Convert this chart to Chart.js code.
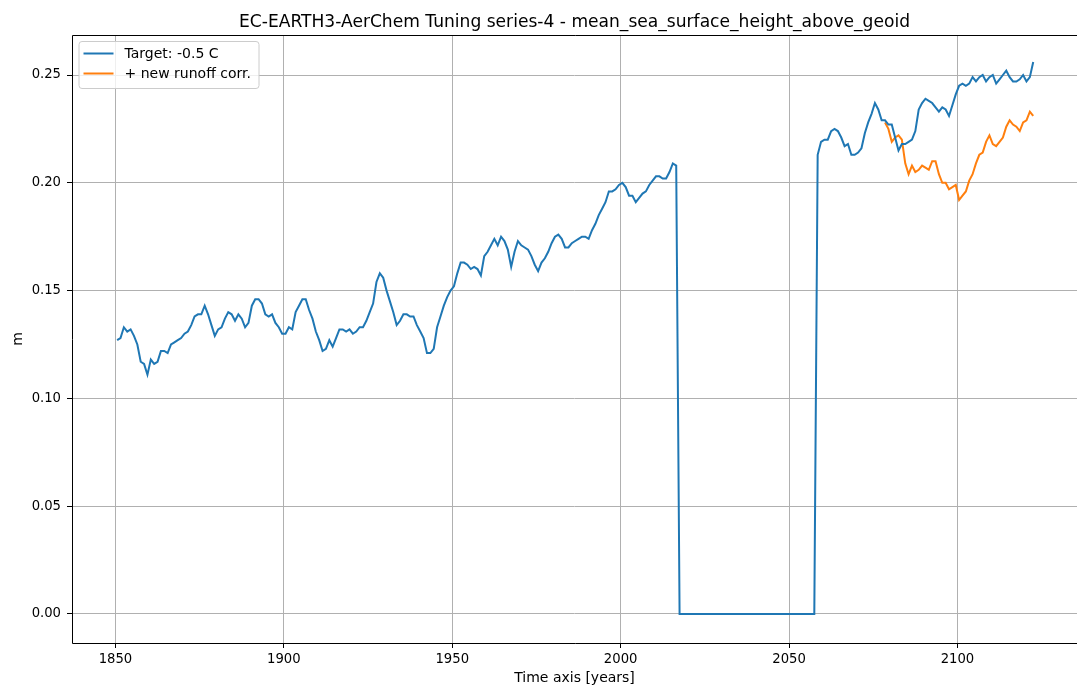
<!DOCTYPE html>
<html>
<head>
<meta charset="utf-8">
<title>EC-EARTH3-AerChem Tuning series-4</title>
<script src="https://cdn.jsdelivr.net/npm/chart.js@4.4.1/dist/chart.umd.min.js"></script>
<style>
  html, body { margin: 0; padding: 0; background: #ffffff; }
  #wrap { width: 1077px; height: 688px; position: relative; }
  canvas { display: block; }
</style>
</head>
<body>
<div id="wrap"><canvas id="chart" width="1077" height="688"></canvas></div>
<script>
// Annual means of sea surface height (m); first value is the year 1850 (plotted mid-year)
const targetStartYear = 1850;
const targetValues = [
  0.127, 0.128, 0.133, 0.131, 0.132, 0.129, 0.125, 0.117, 0.116, 0.111,
  0.118, 0.116, 0.117, 0.122, 0.122, 0.121, 0.125, 0.126, 0.127, 0.128,
  0.130, 0.131, 0.134, 0.138, 0.139, 0.139, 0.143, 0.139, 0.134, 0.129,
  0.132, 0.133, 0.137, 0.140, 0.139, 0.136, 0.139, 0.137, 0.133, 0.135,
  0.143, 0.146, 0.146, 0.144, 0.139, 0.138, 0.139, 0.135, 0.133, 0.130,
  0.130, 0.133, 0.132, 0.140, 0.143, 0.146, 0.146, 0.141, 0.137, 0.131,
  0.127, 0.122, 0.123, 0.127, 0.124, 0.128, 0.132, 0.132, 0.131, 0.132,
  0.130, 0.131, 0.133, 0.133, 0.136, 0.140, 0.144, 0.154, 0.158, 0.156,
  0.150, 0.145, 0.140, 0.134, 0.136, 0.139, 0.139, 0.138, 0.138, 0.134,
  0.131, 0.128, 0.121, 0.121, 0.123, 0.133, 0.138, 0.143, 0.147, 0.150,
  0.152, 0.158, 0.163, 0.163, 0.162, 0.160, 0.161, 0.160, 0.157, 0.166,
  0.168, 0.171, 0.174, 0.171, 0.175, 0.173, 0.169, 0.161, 0.168, 0.173,
  0.171, 0.170, 0.169, 0.166, 0.162, 0.159, 0.163, 0.165, 0.168, 0.172,
  0.175, 0.176, 0.174, 0.170, 0.170, 0.172, 0.173, 0.174, 0.175, 0.175,
  0.174, 0.178, 0.181, 0.185, 0.188, 0.191, 0.196, 0.196, 0.197, 0.199,
  0.200, 0.198, 0.194, 0.194, 0.191, 0.193, 0.195, 0.196, 0.199, 0.201,
  0.203, 0.203, 0.202, 0.202, 0.205, 0.209, 0.208,
  // 2017-2057: no output in this period
  0, 0, 0, 0, 0, 0, 0, 0, 0, 0,
  0, 0, 0, 0, 0, 0, 0, 0, 0, 0,
  0, 0, 0, 0, 0, 0, 0, 0, 0, 0,
  0, 0, 0, 0, 0, 0, 0, 0, 0, 0,
  0,
  // 2058-2122
  0.213, 0.219, 0.220, 0.220, 0.224, 0.225, 0.224, 0.221, 0.217, 0.218,
  0.213, 0.213, 0.214, 0.216, 0.223, 0.228, 0.232, 0.237, 0.234, 0.229,
  0.229, 0.227, 0.227, 0.221, 0.215, 0.218, 0.218, 0.219, 0.220, 0.224,
  0.234, 0.237, 0.239, 0.238, 0.237, 0.235, 0.233, 0.235, 0.234, 0.231,
  0.236, 0.241, 0.245, 0.246, 0.245, 0.246, 0.249, 0.247, 0.249, 0.250,
  0.247, 0.249, 0.250, 0.246, 0.248, 0.250, 0.252, 0.249, 0.247, 0.247,
  0.248, 0.250, 0.247, 0.249, 0.256
];

// Branch run with the new runoff correction, starting in 2078
const runoffStartYear = 2078;
const runoffValues = [
  0.228, 0.225, 0.219, 0.221, 0.222, 0.220, 0.209, 0.204, 0.208, 0.205,
  0.206, 0.208, 0.207, 0.206, 0.210, 0.210, 0.204, 0.200, 0.200, 0.197,
  0.198, 0.199, 0.192, 0.194, 0.196, 0.201, 0.204, 0.209, 0.213, 0.214,
  0.219, 0.222, 0.218, 0.217, 0.219, 0.221, 0.226, 0.229, 0.227, 0.226,
  0.224, 0.228, 0.229, 0.233, 0.231
];

const seriesLabels = ['Target: -0.5 C', '+ new runoff corr.'];
const xTickValues = [1850, 1900, 1950, 2000, 2050, 2100];
const yTickValues = [0.00, 0.05, 0.10, 0.15, 0.20, 0.25];

const chartTitle = 'EC-EARTH3-AerChem Tuning series-4 - mean_sea_surface_height_above_geoid';
const xAxisTitle = 'Time axis [years]';
const yAxisTitle = 'm';

const FONT = '"DejaVu Sans", "Liberation Sans", sans-serif';

function toPoints(startYear, values) {
  return values.map((v, i) => ({ x: startYear + i + 0.5, y: v }));
}

// Frame (left, top, bottom spines), title and boxed legend
const decorations = {
  id: 'decorations',
  afterDatasetsDraw(chart) {
    const { ctx, chartArea: a } = chart;
    ctx.save();
    ctx.strokeStyle = '#000000';
    ctx.lineWidth = 1;
    ctx.beginPath();
    ctx.moveTo(a.right + 2, a.top + 0.5);
    ctx.lineTo(a.left + 0.5, a.top + 0.5);
    ctx.lineTo(a.left + 0.5, a.bottom + 0.5);
    ctx.lineTo(a.right + 2, a.bottom + 0.5);
    ctx.stroke();

    // title
    ctx.fillStyle = '#000000';
    ctx.font = '17.1px ' + FONT;
    ctx.textAlign = 'center';
    ctx.textBaseline = 'alphabetic';
    ctx.fillText(chartTitle, (a.left + a.right) / 2, 26.5);

    // legend
    const lx = 79, ly = 41.5, lw = 180, lh = 47, r = 3;
    ctx.beginPath();
    ctx.moveTo(lx + r, ly);
    ctx.lineTo(lx + lw - r, ly);
    ctx.quadraticCurveTo(lx + lw, ly, lx + lw, ly + r);
    ctx.lineTo(lx + lw, ly + lh - r);
    ctx.quadraticCurveTo(lx + lw, ly + lh, lx + lw - r, ly + lh);
    ctx.lineTo(lx + r, ly + lh);
    ctx.quadraticCurveTo(lx, ly + lh, lx, ly + lh - r);
    ctx.lineTo(lx, ly + r);
    ctx.quadraticCurveTo(lx, ly, lx + r, ly);
    ctx.closePath();
    ctx.fillStyle = 'rgba(255,255,255,0.8)';
    ctx.fill();
    ctx.strokeStyle = '#cccccc';
    ctx.stroke();

    ctx.font = '14px ' + FONT;
    ctx.textAlign = 'left';
    ctx.textBaseline = 'middle';
    chart.data.datasets.forEach((ds, i) => {
      const yy = 53.5 + i * 20;
      ctx.strokeStyle = ds.borderColor;
      ctx.lineWidth = 2;
      ctx.beginPath();
      ctx.moveTo(83.5, yy);
      ctx.lineTo(113.5, yy);
      ctx.stroke();
      ctx.fillStyle = '#000000';
      ctx.fillText(ds.label, 124.5, yy + 0.5);
    });
    ctx.restore();
  }
};

const gridStyle = {
  color: '#b0b0b0',
  lineWidth: 1,
  drawTicks: true,
  tickLength: 5,
  tickColor: '#000000',
  tickWidth: 1
};

new Chart(document.getElementById('chart'), {
  type: 'line',
  data: {
    datasets: [
      {
        label: seriesLabels[0],
        data: toPoints(targetStartYear, targetValues),
        borderColor: '#1f77b4',
        borderWidth: 2,
        pointRadius: 0,
        tension: 0,
        fill: false
      },
      {
        label: seriesLabels[1],
        data: toPoints(runoffStartYear, runoffValues),
        borderColor: '#ff7f0e',
        borderWidth: 2,
        pointRadius: 0,
        tension: 0,
        fill: false
      }
    ]
  },
  options: {
    responsive: false,
    animation: false,
    devicePixelRatio: 1,
    layout: { padding: { top: 35, left: 0, right: 0, bottom: 0 } },
    plugins: {
      legend: { display: false },
      title: { display: false },
      tooltip: { enabled: false }
    },
    scales: {
      x: {
        type: 'linear',
        min: 1837.1,
        max: 2135.5,
        grid: gridStyle,
        border: { display: false },
        afterBuildTicks(scale) { scale.ticks = xTickValues.map(v => ({ value: v })); },
        afterFit(scale) { scale.height = 45; },
        ticks: {
          color: '#000000',
          font: { family: FONT, size: 13.2 },
          padding: 4,
          maxRotation: 0,
          callback: v => String(v)
        },
        title: {
          display: true,
          text: xAxisTitle,
          color: '#000000',
          font: { family: FONT, size: 14 },
          padding: { top: 0, bottom: 1 }
        }
      },
      y: {
        type: 'linear',
        min: -0.013451,
        max: 0.268553,
        grid: gridStyle,
        border: { display: false },
        afterBuildTicks(scale) { scale.ticks = yTickValues.map(v => ({ value: v })); },
        afterFit(scale) { scale.width = 72; },
        ticks: {
          color: '#000000',
          font: { family: FONT, size: 13.2 },
          padding: 6,
          callback: v => Number(v).toFixed(2)
        },
        title: {
          display: true,
          text: yAxisTitle,
          color: '#000000',
          font: { family: FONT, size: 14 },
          padding: { top: 10, bottom: 0 }
        }
      }
    }
  },
  plugins: [decorations]
});
</script>
</body>
</html>
